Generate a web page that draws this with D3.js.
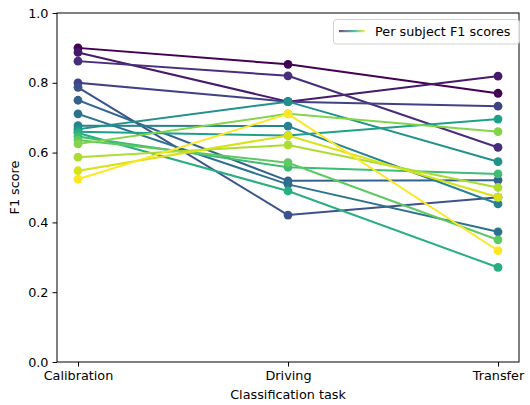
<!DOCTYPE html>
<html>
<head>
<meta charset="utf-8">
<script src="https://cdn.jsdelivr.net/npm/d3@7"></script>
<style>
  html, body { margin: 0; padding: 0; background: #fff; }
  svg { display: block; font-family: "DejaVu Sans", sans-serif; }
</style>
</head>
<body>
<svg id="chart" width="530" height="405"></svg>
<script>
// Classification tasks along the x axis
const tasks = ["Calibration", "Driving", "Transfer"];

// Per subject F1 scores, one array per task (subject order is shared)
const calibration = [0.900, 0.887, 0.862, 0.800, 0.787, 0.750, 0.711, 0.677, 0.667, 0.660, 0.656, 0.646, 0.636, 0.625, 0.587, 0.548, 0.524];
const driving     = [0.853, 0.746, 0.820, 0.746, 0.421, 0.519, 0.509, 0.676, 0.746, 0.649, 0.490, 0.558, 0.571, 0.711, 0.622, 0.649, 0.711];
const transfer    = [0.770, 0.819, 0.615, 0.733, 0.472, 0.521, 0.373, 0.453, 0.574, 0.696, 0.271, 0.539, 0.350, 0.660, 0.500, 0.472, 0.319];

const yTicks = [0.0, 0.2, 0.4, 0.6, 0.8, 1.0];
const legendLabel = "Per subject F1 scores";
const xTitle = "Classification task";
const yTitle = "F1 score";

const svg = d3.select("#chart");
const plot = { left: 57, right: 519, top: 13, bottom: 362 };
const fontSize = 12.8;

// categorical axis with a 5% margin: positions 0..2 over -0.1..2.1
const xi = d3.scaleLinear().domain([-0.1, 2.1]).range([plot.left, plot.right]);
const xPos = t => xi(tasks.indexOf(t));

const y = d3.scaleLinear().domain([0, 1]).range([plot.bottom, plot.top]);

const n = calibration.length;
const color = i => d3.interpolateViridis(i / (n - 1));

// subject lines with markers, drawn in order so later subjects sit on top
const g = svg.append("g");
const line = d3.line().x(d => xPos(d.task)).y(d => y(d.v));
for (let i = 0; i < n; i++) {
  const pts = [
    { task: tasks[0], v: calibration[i] },
    { task: tasks[1], v: driving[i] },
    { task: tasks[2], v: transfer[i] }
  ];
  const sg = g.append("g");
  sg.append("path").datum(pts)
    .attr("d", line)
    .attr("fill", "none")
    .attr("stroke", color(i))
    .attr("stroke-width", 2)
    .attr("stroke-linejoin", "round")
    .attr("stroke-linecap", "square");
  sg.selectAll("circle").data(pts).join("circle")
    .attr("cx", d => xPos(d.task))
    .attr("cy", d => y(d.v))
    .attr("r", 4.4)
    .attr("fill", color(i));
}

// axes frame
svg.append("rect")
  .attr("x", plot.left).attr("y", plot.top)
  .attr("width", plot.right - plot.left).attr("height", plot.bottom - plot.top)
  .attr("fill", "none").attr("stroke", "#000").attr("stroke-width", 1);

// y axis
const yAxis = d3.axisLeft(y).tickValues(yTicks).tickFormat(d3.format(".1f")).tickSize(4.5).tickPadding(4);
const ya = svg.append("g").attr("transform", `translate(${plot.left},0)`).call(yAxis);
ya.select(".domain").remove();
ya.selectAll("text").attr("font-size", fontSize).attr("fill", "#000").attr("font-family", "DejaVu Sans");
ya.selectAll("line").attr("stroke", "#000");

// x axis
const xAxis = d3.axisBottom(xi).tickValues([0, 1, 2]).tickFormat(i => tasks[i]).tickSize(4.5).tickPadding(4);
const xa = svg.append("g").attr("transform", `translate(0,${plot.bottom})`).call(xAxis);
xa.select(".domain").remove();
xa.selectAll("text").attr("font-size", fontSize).attr("fill", "#000").attr("font-family", "DejaVu Sans");
xa.selectAll("line").attr("stroke", "#000");

// axis titles
svg.append("text")
  .attr("x", (plot.left + plot.right) / 2).attr("y", 399)
  .attr("text-anchor", "middle").attr("font-size", fontSize).text(xTitle);
svg.append("text")
  .attr("transform", `translate(19,${(plot.top + plot.bottom) / 2}) rotate(-90)`)
  .attr("text-anchor", "middle").attr("font-size", fontSize).text(yTitle);

// legend with a viridis gradient swatch
const defs = svg.append("defs");
const grad = defs.append("linearGradient").attr("id", "viridisGrad")
  .attr("x1", "0%").attr("x2", "100%").attr("y1", "0%").attr("y2", "0%");
d3.range(0, 1.0001, 0.1).forEach(t => {
  grad.append("stop").attr("offset", `${t * 100}%`).attr("stop-color", d3.interpolateViridis(t));
});
const lg = svg.append("g");
lg.append("rect")
  .attr("x", 333.5).attr("y", 19.5).attr("width", 186).attr("height", 24.5)
  .attr("rx", 3).attr("fill", "#fff").attr("fill-opacity", 0.8)
  .attr("stroke", "#d0d0d0").attr("stroke-width", 1);
lg.append("rect")
  .attr("x", 339).attr("y", 30).attr("width", 26).attr("height", 2.2)
  .attr("fill", "url(#viridisGrad)").attr("opacity", 0.75);
lg.append("text")
  .attr("x", 375).attr("y", 35.5).attr("font-size", fontSize).text(legendLabel);
</script>
</body>
</html>
